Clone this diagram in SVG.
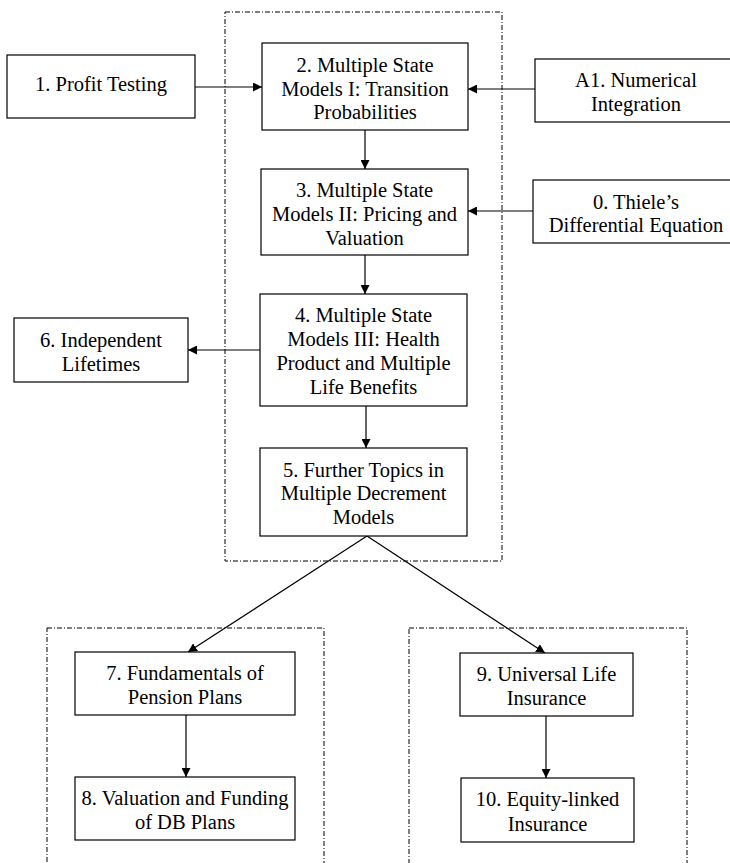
<svg xmlns="http://www.w3.org/2000/svg" width="730" height="863" viewBox="0 0 730 863">
<style>
.box{fill:#fff;stroke:#000;stroke-width:1.2}
.grp{fill:none;stroke:#000;stroke-width:1;stroke-dasharray:5 2 1 2}
.t{font-family:'Liberation Serif','DejaVu Serif',serif;font-size:20.5px;fill:#000;text-anchor:middle}
.c{stroke:#000;stroke-width:1.2;fill:none}
</style>
<defs>
<marker id="ah" viewBox="0 0 10 10" refX="10" refY="5" markerWidth="9" markerHeight="9" markerUnits="userSpaceOnUse" orient="auto">
<path d="M0,0 L10,5 L0,10 Z" fill="#000"/>
</marker>
</defs>
<rect class="grp" x="225" y="12" width="277" height="549"/>
<rect class="grp" x="47" y="628" width="277" height="250"/>
<rect class="grp" x="409" y="628" width="278" height="250"/>
<g id="connectors">
<line class="c" x1="195" y1="87" x2="262" y2="87" marker-end="url(#ah)"/>
<line class="c" x1="535" y1="89" x2="468" y2="89" marker-end="url(#ah)"/>
<line class="c" x1="365" y1="130" x2="365" y2="169" marker-end="url(#ah)"/>
<line class="c" x1="533" y1="211" x2="468" y2="211" marker-end="url(#ah)"/>
<line class="c" x1="365" y1="255" x2="365" y2="294" marker-end="url(#ah)"/>
<line class="c" x1="260" y1="350" x2="188" y2="350" marker-end="url(#ah)"/>
<line class="c" x1="366" y1="406" x2="366" y2="448" marker-end="url(#ah)"/>
<line class="c" x1="367" y1="536" x2="188" y2="652" marker-end="url(#ah)"/>
<line class="c" x1="367" y1="536" x2="545" y2="653" marker-end="url(#ah)"/>
<line class="c" x1="186" y1="715" x2="186" y2="777" marker-end="url(#ah)"/>
<line class="c" x1="546" y1="716" x2="546" y2="778" marker-end="url(#ah)"/>
</g>
<g id="n1" font-family="Liberation Serif, serif"><rect class="box" x="7" y="55" width="188" height="63"/>
<text class="t" x="101" y="91">1. Profit Testing</text></g>
<g id="n2"><rect class="box" x="262" y="43" width="206" height="87"/>
<text class="t" x="365" y="72">2. Multiple State</text>
<text class="t" x="365" y="95.5">Models I: Transition</text>
<text class="t" x="365" y="119">Probabilities</text></g>
<g id="nA1"><rect class="box" x="535" y="59" width="205" height="63"/>
<text class="t" x="636" y="87">A1. Numerical</text>
<text class="t" x="636" y="110.5">Integration</text></g>
<g id="n3"><rect class="box" x="261" y="169" width="207" height="86"/>
<text class="t" x="364.5" y="197">3. Multiple State</text>
<text class="t" x="364.5" y="221">Models II: Pricing and</text>
<text class="t" x="364.5" y="245">Valuation</text></g>
<g id="n0"><rect class="box" x="533" y="180" width="207" height="63"/>
<text class="t" x="636" y="209">0. Thiele’s</text>
<text class="t" x="636" y="232">Differential Equation</text></g>
<g id="n4"><rect class="box" x="260" y="294" width="207" height="112"/>
<text class="t" x="363.5" y="322">4. Multiple State</text>
<text class="t" x="363.5" y="346">Models III: Health</text>
<text class="t" x="363.5" y="370">Product and Multiple</text>
<text class="t" x="363.5" y="394">Life Benefits</text></g>
<g id="n6"><rect class="box" x="14" y="318" width="174" height="64"/>
<text class="t" x="101" y="347">6. Independent</text>
<text class="t" x="101" y="370.5">Lifetimes</text></g>
<g id="n5"><rect class="box" x="260" y="448" width="207" height="88"/>
<text class="t" x="363.5" y="477">5. Further Topics in</text>
<text class="t" x="363.5" y="500">Multiple Decrement</text>
<text class="t" x="363.5" y="523.5">Models</text></g>
<g id="n7"><rect class="box" x="75" y="652" width="220" height="63"/>
<text class="t" x="185" y="680">7. Fundamentals of</text>
<text class="t" x="185" y="703.5">Pension Plans</text></g>
<g id="n8"><rect class="box" x="75" y="777" width="220" height="63"/>
<text class="t" x="185" y="805">8. Valuation and Funding</text>
<text class="t" x="185" y="828.5">of DB Plans</text></g>
<g id="n9"><rect class="box" x="460" y="653" width="173" height="63"/>
<text class="t" x="546.5" y="681">9. Universal Life</text>
<text class="t" x="546.5" y="705">Insurance</text></g>
<g id="n10"><rect class="box" x="461" y="778" width="173" height="64"/>
<text class="t" x="547.5" y="806">10. Equity-linked</text>
<text class="t" x="547.5" y="830.5">Insurance</text></g>
</svg>
